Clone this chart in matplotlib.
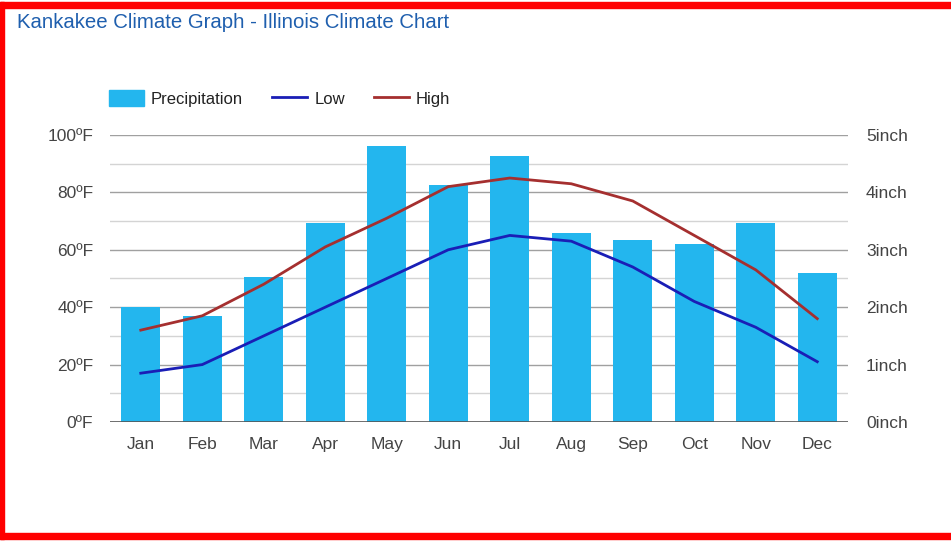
import matplotlib.pyplot as plt
import matplotlib.patches as mpatches
from matplotlib.lines import Line2D
import numpy as np

plt.rcParams['font.family'] = ['Liberation Sans', 'DejaVu Sans']

meses = ["Jan", "Feb", "Mar", "Apr", "May", "Jun", "Jul", "Aug", "Sep", "Oct", "Nov", "Dec"]
precipitacao = [2.0, 1.84, 2.52, 3.47, 4.80, 4.12, 4.63, 3.29, 3.17, 3.10, 3.47, 2.59]
minima = [17, 20, 30, 40, 50, 60, 65, 63, 54, 42, 33, 21]
maxima = [32, 37, 48, 61, 71, 82, 85, 83, 77, 65, 53, 36]

cor_barra = '#23b6ee'
cor_min = '#1a1eb6'
cor_max = '#a52f2f'
cor_texto = '#444444'

fig = plt.figure(figsize=(9.51, 5.41), dpi=100)
ax = fig.add_axes([0.1157, 0.22, 0.776, 0.5305])
ax2 = ax.twinx()

x = np.arange(len(meses))

# barras no eixo da direita (polegadas)
ax2.bar(x, precipitacao, width=0.63, color=cor_barra, zorder=2)
ax2.set_ylim(0, 5)

# linhas no eixo da esquerda (graus F)
ax.set_zorder(ax2.get_zorder() + 1)
ax.patch.set_visible(False)
ax.plot(x, minima, color=cor_min, linewidth=2, zorder=3)
ax.plot(x, maxima, color=cor_max, linewidth=2, zorder=3)
ax.set_ylim(0, 100)
ax.set_xlim(-0.5, 11.5)

# grade
for v in range(10, 100, 20):
    ax2.axhline(v / 20, color='#d4d4d4', linewidth=1, zorder=0)
for v in range(20, 101, 20):
    ax2.axhline(v / 20, color='#a0a0a0', linewidth=1, zorder=0)
ax2.axhline(0, color='#555555', linewidth=1.2, zorder=3)

ax.set_yticks(range(0, 101, 20))
ax.set_yticklabels(["{}\u00baF".format(v) for v in range(0, 101, 20)])
ax2.set_yticks(range(0, 6))
ax2.set_yticklabels(["{}inch".format(v) for v in range(0, 6)])
ax.set_xticks(x)
ax.set_xticklabels(meses)

for a in (ax, ax2):
    for s in a.spines.values():
        s.set_visible(False)
    a.tick_params(length=0, labelsize=12.5, colors=cor_texto)
ax.tick_params(axis='y', pad=12)
ax.tick_params(axis='x', pad=11)
ax2.tick_params(axis='y', pad=13)

# legenda
itens = [mpatches.Patch(color=cor_barra, label="Precipitation"),
         Line2D([0], [0], color=cor_min, linewidth=2, label="Low"),
         Line2D([0], [0], color=cor_max, linewidth=2, label="High")]
fig.legend(handles=itens, loc='center left', bbox_to_anchor=(0.1146, 0.818), ncol=3,
           frameon=False, fontsize=12, handlelength=2.1, handleheight=1.05,
           columnspacing=1.75, handletextpad=0.42, borderpad=0, borderaxespad=0,
           labelcolor='#222222')

fig.text(0.018, 0.959, "Kankakee Climate Graph - Illinois Climate Chart",
         color='#1f5fae', fontsize=14.7, va='center', ha='left')

# moldura vermelha
fig.add_artist(mpatches.Rectangle((0, 0.0037), 0.0042, 0.9926, transform=fig.transFigure,
                                  color='#ff0000', zorder=10))
fig.add_artist(mpatches.Rectangle((0, 0.985), 1, 0.011, transform=fig.transFigure,
                                  color='#ff0000', zorder=10))
fig.add_artist(mpatches.Rectangle((0, 0.0037), 1, 0.012, transform=fig.transFigure,
                                  color='#ff0000', zorder=10))

plt.savefig("out.png", dpi=100)
